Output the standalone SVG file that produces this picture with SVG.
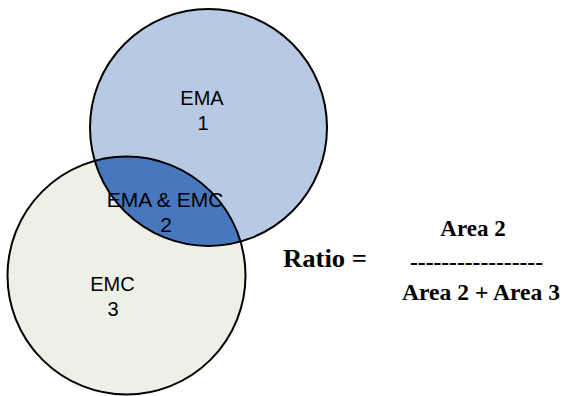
<svg xmlns="http://www.w3.org/2000/svg" width="578" height="396" viewBox="0 0 578 396">
<style>
.lbl{font-family:"Liberation Sans",Arial,sans-serif;font-size:20px;fill:#000;text-anchor:middle}
.eq{font-family:"Liberation Serif","Times New Roman",serif;font-weight:bold;font-size:23px;fill:#000}
.outline{fill:none;stroke:#000;stroke-width:2}
</style>
<defs>
<clipPath id="clipEMA"><circle cx="208.5" cy="127.5" r="118.5"/></clipPath>
</defs>
<rect width="578" height="396" fill="#fff"/>
<g id="emc">
<circle cx="126.5" cy="275.5" r="119" fill="#EEEFE6"/>
</g>
<g id="ema">
<circle cx="208.5" cy="127.5" r="118.5" fill="#B8CAE3"/>
</g>
<g id="overlap">
<circle cx="126.5" cy="275.5" r="119" fill="#4777BD" clip-path="url(#clipEMA)"/>
</g>
<g id="outlines">
<circle class="outline" cx="208.5" cy="127.5" r="118.5"/>
<circle class="outline" cx="126.5" cy="275.5" r="119"/>
</g>
<g id="labels">
<text class="lbl" x="202" y="105">EMA</text>
<text class="lbl" x="203" y="130">1</text>
<text class="lbl" x="165" y="206.5" style="font-size:21px">EMA &amp; EMC</text>
<text class="lbl" x="166" y="231.5" style="font-size:21px">2</text>
<text class="lbl" x="112.5" y="290.5">EMC</text>
<text class="lbl" x="113" y="316">3</text>
</g>
<g id="ratio">
<text class="eq" x="283" y="266.5" textLength="84" lengthAdjust="spacingAndGlyphs" style="font-size:25px">Ratio =</text>
<text class="eq" x="473" y="236" text-anchor="middle">Area 2</text>
<text class="eq" x="410" y="270" textLength="133" lengthAdjust="spacingAndGlyphs">-----------------</text>
<text class="eq" x="402" y="300" textLength="158" lengthAdjust="spacingAndGlyphs">Area 2 + Area 3</text>
</g>
</svg>
